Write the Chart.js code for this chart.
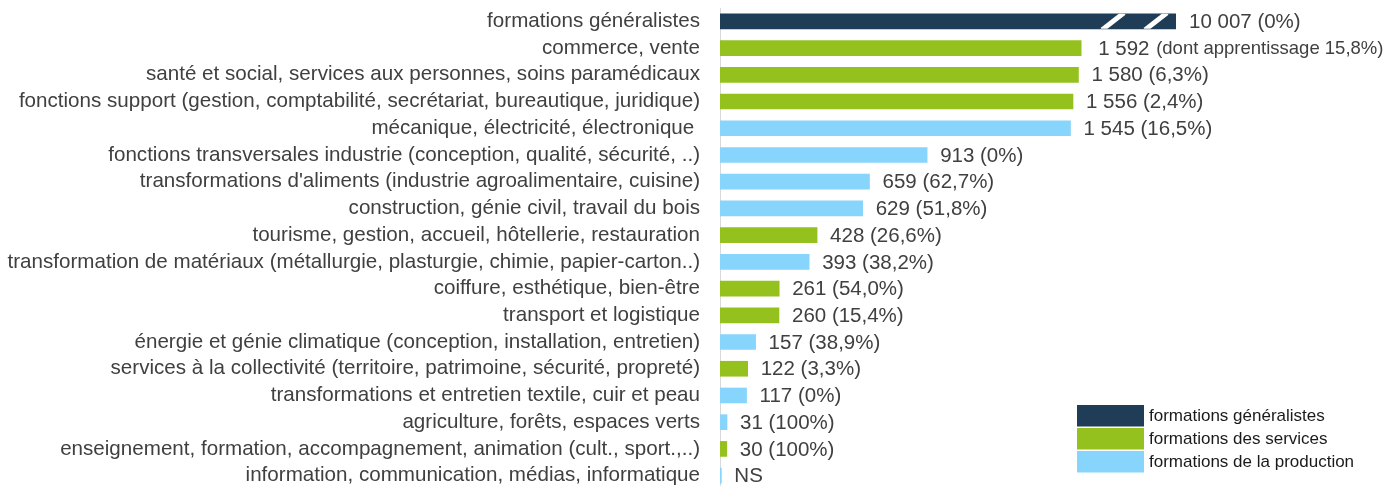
<!DOCTYPE html>
<html>
<head>
<meta charset="utf-8">
<script src="https://cdn.jsdelivr.net/npm/chart.js@4.4.1/dist/chart.umd.min.js"></script>
<style>
html, body { margin: 0; padding: 0; background: #fff; overflow: hidden; }
#wrap { width: 1397px; height: 490px; position: relative; }
</style>
</head>
<body>
<div id="wrap"><canvas id="c" width="1397" height="490"></canvas></div>
<script>
const categories = [
  "formations généralistes",
  "commerce, vente",
  "santé et social, services aux personnes, soins paramédicaux",
  "fonctions support (gestion, comptabilité, secrétariat, bureautique, juridique)",
  "mécanique, électricité, électronique ",
  "fonctions transversales industrie (conception, qualité, sécurité, ..)",
  "transformations d'aliments (industrie agroalimentaire, cuisine)",
  "construction, génie civil, travail du bois",
  "tourisme, gestion, accueil, hôtellerie, restauration",
  "transformation de matériaux (métallurgie, plasturgie, chimie, papier-carton..)",
  "coiffure, esthétique, bien-être",
  "transport et logistique",
  "énergie et génie climatique (conception, installation, entretien)",
  "services à la collectivité (territoire, patrimoine, sécurité, propreté)",
  "transformations et entretien textile, cuir et peau",
  "agriculture, forêts, espaces verts",
  "enseignement, formation, accompagnement, animation (cult., sport.,..)",
  "information, communication, médias, informatique"
];
const values = [10007, 1592, 1580, 1556, 1545, 913, 659, 629, 428, 393, 261, 260, 157, 122, 117, 31, 30, 6];
const groups = [0, 1, 1, 1, 2, 2, 2, 2, 1, 2, 1, 1, 2, 1, 2, 2, 1, 2];
const valueTexts = ["10 007", "1 592", "1 580", "1 556", "1 545", "913", "659", "629", "428", "393", "261", "260", "157", "122", "117", "31", "30", "NS"];
const shareTexts = ["(0%)", "(dont apprentissage 15,8%)", "(6,3%)", "(2,4%)", "(16,5%)", "(0%)", "(62,7%)", "(51,8%)", "(26,6%)", "(38,2%)", "(54,0%)", "(15,4%)", "(38,9%)", "(3,3%)", "(0%)", "(100%)", "(100%)", ""];
const seriesNames = ["formations généralistes", "formations des services", "formations de la production"];
const seriesColors = ["#1f3d57", "#95c11f", "#87d4fc"];
const axisMax = 2010;

const datasets = seriesNames.map((name, g) => ({
  label: name,
  data: values.map((v, i) => groups[i] === g ? v : null),
  backgroundColor: seriesColors[g],
  borderWidth: 0,
  barThickness: 15,
  grouped: false,
  skipNull: true
}));

const FONT = "'Liberation Sans', Arial, sans-serif";

const labelPlugin = {
  id: 'labels',
  afterDatasetsDraw(chart) {
    const ctx = chart.ctx;
    const area = chart.chartArea;
    ctx.save();
    // break marks on clipped bar
    values.forEach((v, i) => {
      if (v > axisMax) {
        const meta = chart.getDatasetMeta(groups[i]);
        const bar = meta.data[i];
        const top = bar.y - 7.5, bot = bar.y + 7.5;
        ctx.save();
        ctx.beginPath();
        ctx.rect(area.left, top, area.right - area.left, 15);
        ctx.clip();
        ctx.strokeStyle = '#ffffff';
        ctx.lineWidth = 5;
        [area.right - 73, area.right - 30].forEach(x0 => {
          ctx.beginPath();
          ctx.moveTo(x0 - 1, bot + 1);
          ctx.lineTo(x0 + 21, top - 1);
          ctx.stroke();
        });
        ctx.restore();
      }
    });
    // value labels
    ctx.fillStyle = '#404040';
    ctx.textBaseline = 'middle';
    ctx.textAlign = 'left';
    values.forEach((v, i) => {
      const meta = chart.getDatasetMeta(groups[i]);
      const bar = meta.data[i];
      const share = shareTexts[i];
      const small = share.length > 8;
      const x = Math.min(bar.x, area.right) + (small ? 17 : 13);
      ctx.font = "20.5px " + FONT;
      const main = valueTexts[i];
      ctx.fillText(main, x, bar.y + 1);
      const w = ctx.measureText(main + " ").width;
      if (share) {
        ctx.font = (small ? "18.5px " : "20.5px ") + FONT;
        ctx.fillText(share, x + w + (small ? 1 : 0), bar.y + 1);
      }
    });
    // legend
    const lx = 1077, ly = 405;
    seriesNames.forEach((name, g) => {
      ctx.fillStyle = seriesColors[g];
      ctx.fillRect(lx, ly + g * 23, 67, 21.5);
      ctx.fillStyle = '#1a1a1a';
      ctx.font = "17px " + FONT;
      ctx.fillText(name, lx + 72, ly + g * 23 + 11);
    });
    ctx.restore();
  }
};

new Chart(document.getElementById('c'), {
  type: 'bar',
  data: { labels: categories, datasets: datasets },
  options: {
    indexAxis: 'y',
    responsive: false,
    animation: false,
    layout: { padding: { left: 0, right: 221, top: 8, bottom: 1 } },
    plugins: { legend: { display: false }, tooltip: { enabled: false } },
    scales: {
      x: { display: false, min: 0, max: axisMax },
      y: {
        afterFit(scale) { scale.width = 720; scale.paddingTop = 0; scale.paddingBottom = 0; },
        grid: { display: false, drawTicks: false },
        border: { display: true, color: '#d9d9d9', width: 1 },
        ticks: { padding: 20, color: '#404040', font: { family: FONT, size: 20.6 }, autoSkip: false }
      }
    }
  },
  plugins: [labelPlugin]
});
</script>
</body>
</html>
